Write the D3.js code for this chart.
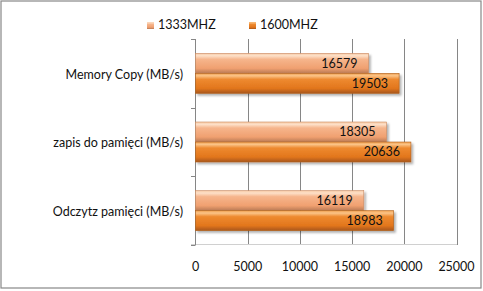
<!DOCTYPE html>
<html><head><meta charset="utf-8">
<script src="https://cdn.jsdelivr.net/npm/d3@7/dist/d3.min.js"></script>
<style>body{margin:0;background:#fff}svg{display:block}text{font-family:Lato,"Open Sans",sans-serif;fill:#111}</style>
</head><body><svg id="c" width="483" height="291"></svg>
<script>
const categories = ["Memory Copy (MB/s)", "zapis do pamięci (MB/s)", "Odczytz pamięci (MB/s)"];
const seriesNames = ["1333MHZ", "1600MHZ"];
const values1333 = [16579, 18305, 16119];
const values1600 = [19503, 20636, 18983];
const xTicks = [0, 5000, 10000, 15000, 20000, 25000];

const svg = d3.select("#c");
const defs = svg.append("defs");
function grad(id, stops){
  const g = defs.append("linearGradient").attr("id", id).attr("x1",0).attr("y1",0).attr("x2",0).attr("y2",1);
  stops.forEach(s => g.append("stop").attr("offset", s[0]).attr("stop-color", s[1]));
}
grad("g0", [[0,"#f7c9a4"],[0.12,"#fde0c8"],[0.3,"#f6b58c"],[0.75,"#f0a070"],[1,"#b97a55"]]);
grad("g1", [[0,"#f0a050"],[0.12,"#fbc488"],[0.3,"#ee8a30"],[0.75,"#e2761c"],[1,"#a8561a"]]);
const f = defs.append("filter").attr("id","sh").attr("x","-5%").attr("y","-20%").attr("width","115%").attr("height","160%");
f.append("feDropShadow").attr("dx",2).attr("dy",2).attr("stdDeviation",1.2).attr("flood-color","#000").attr("flood-opacity",0.3);

// outer border
svg.append("rect").attr("x",1).attr("y",1).attr("width",480).attr("height",287)
  .attr("fill","none").attr("stroke","#888").attr("stroke-width",1.2);

const x = d3.scaleLinear().domain([0,25000]).range([195.5,456.5]);
const y = d3.scaleBand().domain(categories).range([39,245]).paddingInner(0.4175).paddingOuter(0.20875);
const ys = d3.scaleBand().domain(seriesNames).range([0, y.bandwidth()]);

// gridlines
svg.append("g").selectAll("line").data(xTicks.slice(1)).join("line")
  .attr("x1", d=>Math.round(x(d))+0.5).attr("x2", d=>Math.round(x(d))+0.5)
  .attr("y1",39).attr("y2",245).attr("stroke","#868686").attr("stroke-width",1);

// bottom axis line (light)
svg.append("line").attr("x1",191).attr("x2",457).attr("y1",244.5).attr("y2",244.5).attr("stroke","#d0d0d0");

// left axis
svg.append("line").attr("x1",195.5).attr("x2",195.5).attr("y1",39).attr("y2",245).attr("stroke","#868686");
const bounds = [39, 39+y.step(), 39+2*y.step(), 245];
svg.append("g").selectAll("line").data(bounds).join("line")
  .attr("x1",191).attr("x2",195.5).attr("y1",d=>Math.round(d)+0.5).attr("y2",d=>Math.round(d)+0.5).attr("stroke","#868686");

// x tick labels
svg.append("g").selectAll("text").data(xTicks).join("text")
  .attr("x", d=>x(d)).attr("y", 271).attr("text-anchor","middle")
  .style("font-size","12.5px").text(d=>d);

// category labels
svg.append("g").selectAll("text").data(categories).join("text")
  .attr("x", 183).attr("y", d=>y(d)+y.bandwidth()/2 + 2).attr("text-anchor","end")
  .attr("dominant-baseline","middle").style("font-size","12.5px").text(d=>d);

// bars
const series = [values1333, values1600];
series.forEach((vals, si) => {
  const g = svg.append("g");
  g.selectAll("rect").data(vals).join("rect")
    .attr("x", x(0)).attr("y", (d,i)=>y(categories[i]) + ys(seriesNames[si]))
    .attr("width", d=>x(d)-x(0)).attr("height", ys.bandwidth())
    .attr("fill", `url(#g${si})`).attr("stroke", si===0?"#c98a62":"#b0601c").attr("stroke-width",0.6)
    .attr("filter","url(#sh)");
  g.selectAll("text").data(vals).join("text")
    .attr("x", d=>x(d)-11).attr("y", (d,i)=>y(categories[i]) + ys(seriesNames[si]) + ys.bandwidth()/2 + 1)
    .attr("text-anchor","end").attr("dominant-baseline","middle")
    .style("font-size","12.5px").text(d=>d);
});

// legend
const legX = [147, 249];
seriesNames.forEach((n, i) => {
  svg.append("rect").attr("x", legX[i]).attr("y", 22).attr("width", 7).attr("height", 7)
    .attr("fill", `url(#g${i})`);
  svg.append("text").attr("x", legX[i]+11).attr("y", 26).attr("dominant-baseline","middle")
    .style("font-size","12.5px").text(n);
});
</script></body></html>
